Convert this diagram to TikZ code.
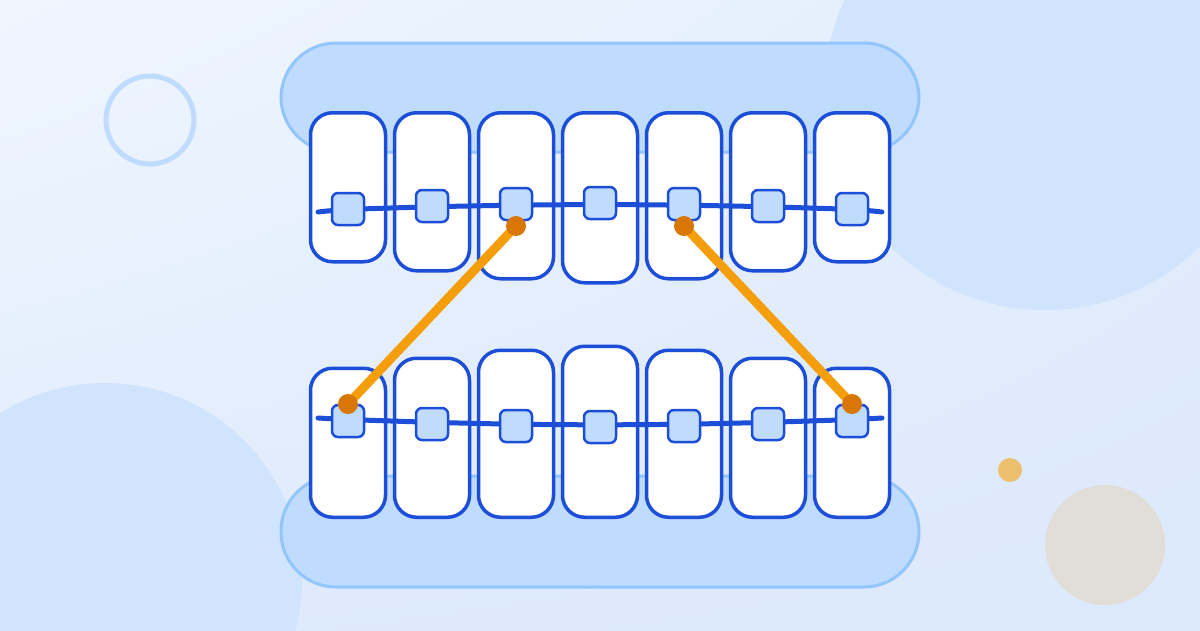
\documentclass[tikz,border=0pt]{standalone}
\usetikzlibrary{calc,shadings}
\definecolor{bgA}{HTML}{F0F6FE}
\definecolor{bgB}{HTML}{E2EDFC}
\definecolor{bgC}{HTML}{DFEBFC}
\definecolor{bgD}{HTML}{DCE9FC}
\definecolor{blobBlue}{HTML}{D1E4FD}
\definecolor{ringBlue}{HTML}{BFDBFE}
\definecolor{gumFill}{HTML}{BFDBFE}
\definecolor{gumLine}{HTML}{93C5FD}
\definecolor{toothLine}{HTML}{1D4ED8}
\definecolor{bracketFill}{HTML}{BFDBFE}
\definecolor{elastic}{HTML}{F59E0B}
\definecolor{elasticDot}{HTML}{D97706}
\definecolor{goldDot}{HTML}{EDBE6E}
\definecolor{beige}{HTML}{E1DED7}
\tikzset{
  gum/.style={fill=gumFill, draw=gumLine, line width=3pt, rounded corners=55pt},
  tooth/.style={rectangle, rounded corners=22pt, fill=white, draw=toothLine, line width=3.5pt, minimum width=75pt, inner sep=0pt, anchor=north},
  toothlow/.style={tooth, anchor=south},
  bracket/.style={rectangle, rounded corners=6pt, fill=bracketFill, draw=toothLine, line width=2.5pt, minimum width=32pt, minimum height=32pt, inner sep=0pt},
  wire/.style={draw=toothLine, line width=5pt, line cap=round},
  band/.style={draw=elastic, line width=9pt},
  banddot/.style={circle, fill=elasticDot, minimum size=20pt, inner sep=0pt}
}
\begin{document}
\begin{tikzpicture}[x=1pt, y=-1pt]
\useasboundingbox (0,0) rectangle (1200,630);
% background
\shade[upper left=bgA, upper right=bgB, lower left=bgC, lower right=bgD] (0,0) rectangle (1200,630);
\clip (0,0) rectangle (1200,630);
\fill[blobBlue] (1045,90) circle (220);
\fill[blobBlue] (105,580) circle (197);
\draw[ringBlue, line width=5pt] (150,120) circle (44);
\fill[goldDot] (1010,470) circle (12);
\fill[beige] (1105,545) circle (60);
% gums
\draw[gum] (281,43) rectangle (919,152);
\draw[gum] (281,476) rectangle (919,587);
% upper teeth
\foreach \i/\x/\h in {1/348/149, 2/432/158, 3/516/166, 4/600/170, 5/684/166, 6/768/158, 7/852/149} {
  \node[tooth, minimum height=\h pt] (u\i) at (\x,111) {};
}
% lower teeth
\foreach \i/\x/\h in {1/348/149, 2/432/159, 3/516/167, 4/600/171, 5/684/167, 6/768/159, 7/852/149} {
  \node[toothlow, minimum height=\h pt] (l\i) at (\x,519) {};
}
% wires
\coordinate (uwl) at (318,212);
\coordinate (uwr) at (882,212);
\coordinate (lwl) at (318,418);
\coordinate (lwr) at (882,418);
\draw[wire] plot[smooth, tension=0.5] coordinates {(318,212) (348,209.5) (432,206.8) (516,205.2) (600,204.6) (684,205.2) (768,206.8) (852,209.5) (882,212)};
\draw[wire] plot[smooth, tension=0.5] coordinates {(318,418) (348,419.5) (432,422.3) (516,424.2) (600,424.8) (684,424.2) (768,422.3) (852,419.5) (882,418)};
% brackets
\foreach \i/\x/\y in {1/348/209, 2/432/206, 3/516/204, 4/600/203, 5/684/204, 6/768/206, 7/852/209} {
  \node[bracket] (bu\i) at (\x,\y) {};
}
\foreach \i/\x/\y in {1/348/421, 2/432/424, 3/516/426, 4/600/427, 5/684/426, 6/768/424, 7/852/421} {
  \node[bracket] (bl\i) at (\x,\y) {};
}
% elastics
\coordinate (e1a) at (516,226);
\coordinate (e1b) at (348,404);
\coordinate (e2a) at (684,226);
\coordinate (e2b) at (852,404);
\draw[band] (e1a) -- (e1b);
\draw[band] (e2a) -- (e2b);
\node[banddot] (d1a) at (e1a) {};
\node[banddot] (d1b) at (e1b) {};
\node[banddot] (d2a) at (e2a) {};
\node[banddot] (d2b) at (e2b) {};
\end{tikzpicture}
\end{document}
